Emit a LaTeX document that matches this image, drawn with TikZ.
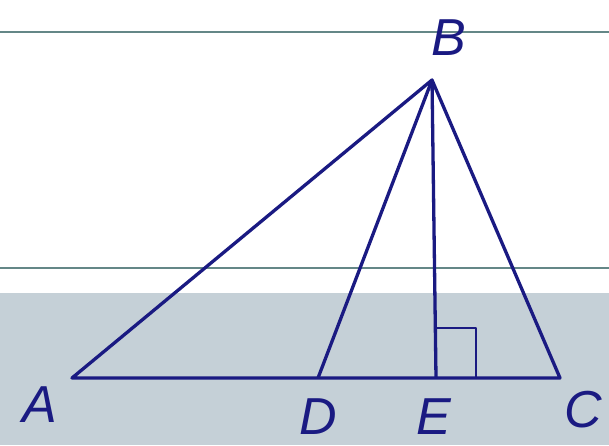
\documentclass[tikz,border=0pt]{standalone}
\usepackage{fontspec}
\setmainfont{Liberation Sans}
\usetikzlibrary{calc}
\definecolor{segblue}{RGB}{26,26,130}
\definecolor{bandgrey}{RGB}{197,208,215}
\definecolor{rulegrey}{RGB}{100,135,135}
\tikzset{
  seg/.style={draw=segblue,line width=3.3pt,line join=round},
  rule/.style={draw=rulegrey,line width=1.8pt},
  lbl/.style={text=segblue,font=\fontsize{52}{52}\selectfont\itshape,inner sep=0pt}
}
\begin{document}
\begin{tikzpicture}[x=1pt,y=-1pt]
                                \useasboundingbox (0,0) rectangle (609,445);
                                \fill[bandgrey] (0,293) rectangle (609,445);
                                \draw[rule] (0,32) -- (609,32);
                                \draw[rule] (0,268) -- (609,268);
                                \coordinate (A) at (72,378);
                                \coordinate (B) at (432,80);
                                \coordinate (C) at (560,378);
                                \coordinate (D) at (318,378);
                                \coordinate (E) at (436,378);
                                \draw[seg] (A) -- (B) -- (C) -- cycle;
                                \draw[seg] (B) -- (D);
                                \draw[seg] (B) -- (E);
                                \draw[seg,line width=2.8pt] ($(E)+(0,-50)$) -- ++(40,0) -- ++(0,50);
                                \node[lbl] (lA) at (40,405) {A};
                                \node[lbl] (lB) at (449,38) {B};
                                \node[lbl] (lC) at (583,410) {C};
                                \node[lbl] (lD) at (318,417) {D};
                                \node[lbl] (lE) at (434,417) {E};
					\end{tikzpicture}
\end{document}
